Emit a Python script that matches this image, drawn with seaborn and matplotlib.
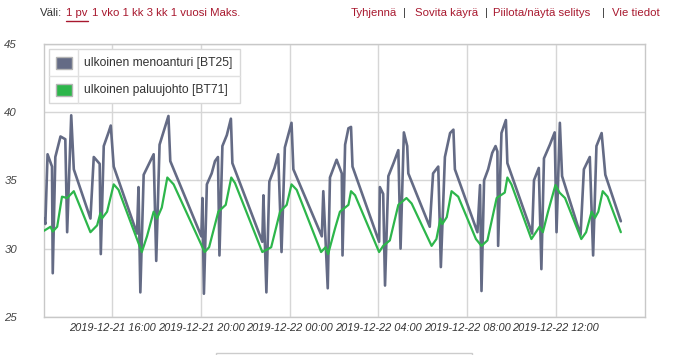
import matplotlib
matplotlib.use("Agg")
import matplotlib.pyplot as plt
import matplotlib.dates as mdates
from matplotlib.patches import Rectangle
from matplotlib.lines import Line2D
import seaborn as sns
import pandas as pd

# ---------------- data ----------------
bt25_times = [
    "2019-12-21 12:55", "2019-12-21 12:59", "2019-12-21 13:05", "2019-12-21 13:17", "2019-12-21 13:19",
    "2019-12-21 13:26", "2019-12-21 13:40", "2019-12-21 13:53", "2019-12-21 13:58", "2019-12-21 14:09",
    "2019-12-21 14:16", "2019-12-21 15:01", "2019-12-21 15:10", "2019-12-21 15:26", "2019-12-21 15:29",
    "2019-12-21 15:37", "2019-12-21 15:50", "2019-12-21 15:56", "2019-12-21 16:04", "2019-12-21 17:07",
    "2019-12-21 17:11", "2019-12-21 17:16", "2019-12-21 17:25", "2019-12-21 17:52", "2019-12-21 17:59",
    "2019-12-21 18:08", "2019-12-21 18:32", "2019-12-21 18:37", "2019-12-21 20:01", "2019-12-21 20:04",
    "2019-12-21 20:08", "2019-12-21 20:16", "2019-12-21 20:29", "2019-12-21 20:38", "2019-12-21 20:46",
    "2019-12-21 20:50", "2019-12-21 20:58", "2019-12-21 21:10", "2019-12-21 21:21", "2019-12-21 21:25",
    "2019-12-21 22:46", "2019-12-21 22:49", "2019-12-21 22:57", "2019-12-21 23:05", "2019-12-21 23:19",
    "2019-12-21 23:29", "2019-12-21 23:38", "2019-12-21 23:47", "2019-12-22 00:05", "2019-12-22 00:10",
    "2019-12-22 01:27", "2019-12-22 01:31", "2019-12-22 01:43", "2019-12-22 01:49", "2019-12-22 02:07",
    "2019-12-22 02:21", "2019-12-22 02:23", "2019-12-22 02:30", "2019-12-22 02:39", "2019-12-22 02:46",
    "2019-12-22 02:50", "2019-12-22 04:02", "2019-12-22 04:04", "2019-12-22 04:13", "2019-12-22 04:18",
    "2019-12-22 04:27", "2019-12-22 04:41", "2019-12-22 04:54", "2019-12-22 05:00", "2019-12-22 05:09",
    "2019-12-22 05:18", "2019-12-22 05:21", "2019-12-22 06:19", "2019-12-22 06:28", "2019-12-22 06:42",
    "2019-12-22 06:49", "2019-12-22 07:00", "2019-12-22 07:14", "2019-12-22 07:23", "2019-12-22 07:27",
    "2019-12-22 08:28", "2019-12-22 08:35", "2019-12-22 08:39", "2019-12-22 08:46", "2019-12-22 08:57",
    "2019-12-22 09:08", "2019-12-22 09:17", "2019-12-22 09:22", "2019-12-22 09:24", "2019-12-22 09:33",
    "2019-12-22 09:45", "2019-12-22 09:49", "2019-12-22 10:56", "2019-12-22 11:01", "2019-12-22 11:14",
    "2019-12-22 11:21", "2019-12-22 11:28", "2019-12-22 11:44", "2019-12-22 11:57", "2019-12-22 12:02",
    "2019-12-22 12:11", "2019-12-22 12:17", "2019-12-22 13:07", "2019-12-22 13:16", "2019-12-22 13:32",
    "2019-12-22 13:41", "2019-12-22 13:50", "2019-12-22 14:04", "2019-12-22 14:14", "2019-12-22 14:56",
]
bt25_values = [
    32.2, 31.8, 36.9, 36.0, 28.2,
    36.7, 38.2, 38.0, 31.2, 39.75,
    35.8, 32.2, 36.7, 36.2, 29.6,
    37.5, 38.5, 39.0, 36.0, 31.1,
    34.5, 26.8, 35.4, 36.9, 29.1,
    37.6, 39.7, 36.4, 30.9, 33.7,
    26.7, 34.7, 35.5, 36.4, 36.7,
    29.5, 37.5, 38.3, 39.5, 36.25,
    30.5, 33.9, 26.8, 34.9, 35.9,
    36.9, 29.75, 37.4, 39.2, 35.8,
    30.9, 34.2, 27.1, 35.2, 36.5,
    35.5, 29.5, 37.6, 38.8, 38.9,
    36.0, 30.5, 34.5, 34.0, 27.3,
    35.3, 36.25, 37.2, 30.0, 38.5,
    37.5, 35.5, 31.6, 35.5, 36.0,
    28.65, 36.7, 38.45, 38.7, 35.8,
    31.2, 34.65, 26.9, 35.0, 35.8,
    37.0, 37.5, 37.1, 30.2, 38.45,
    39.4, 36.25, 31.1, 35.0, 35.9,
    28.5, 36.6, 37.6, 38.5, 31.2,
    39.2, 35.3, 31.0, 35.8, 36.7,
    29.5, 37.5, 38.45, 35.4, 32.0,
]

bt71_times = [
    "2019-12-21 12:55", "2019-12-21 13:13", "2019-12-21 13:19", "2019-12-21 13:31", "2019-12-21 13:44",
    "2019-12-21 13:58", "2019-12-21 14:16", "2019-12-21 15:01", "2019-12-21 15:19", "2019-12-21 15:28",
    "2019-12-21 15:32", "2019-12-21 15:46", "2019-12-21 16:04", "2019-12-21 16:17", "2019-12-21 17:20",
    "2019-12-21 17:34", "2019-12-21 17:52", "2019-12-21 18:01", "2019-12-21 18:14", "2019-12-21 18:29",
    "2019-12-21 18:46", "2019-12-21 20:10", "2019-12-21 20:22", "2019-12-21 20:47", "2019-12-21 21:07",
    "2019-12-21 21:22", "2019-12-21 21:32", "2019-12-21 22:46", "2019-12-21 23:10", "2019-12-21 23:34",
    "2019-12-21 23:52", "2019-12-22 00:05", "2019-12-22 00:19", "2019-12-22 01:25", "2019-12-22 01:37",
    "2019-12-22 01:44", "2019-12-22 02:03", "2019-12-22 02:16", "2019-12-22 02:39", "2019-12-22 02:46",
    "2019-12-22 02:57", "2019-12-22 04:02", "2019-12-22 04:13", "2019-12-22 04:31", "2019-12-22 04:54",
    "2019-12-22 05:16", "2019-12-22 05:30", "2019-12-22 06:24", "2019-12-22 06:37", "2019-12-22 06:48",
    "2019-12-22 06:53", "2019-12-22 07:05", "2019-12-22 07:18", "2019-12-22 07:36", "2019-12-22 08:24",
    "2019-12-22 08:39", "2019-12-22 08:55", "2019-12-22 09:20", "2019-12-22 09:42", "2019-12-22 09:49",
    "2019-12-22 10:00", "2019-12-22 10:54", "2019-12-22 11:16", "2019-12-22 11:25", "2019-12-22 11:39",
    "2019-12-22 11:59", "2019-12-22 12:10", "2019-12-22 12:25", "2019-12-22 13:09", "2019-12-22 13:22",
    "2019-12-22 13:37", "2019-12-22 13:46", "2019-12-22 13:55", "2019-12-22 14:07", "2019-12-22 14:20",
    "2019-12-22 14:56",
]
bt71_values = [
    31.3, 31.6, 31.25, 31.6, 33.8,
    33.7, 34.2, 31.2, 31.7, 32.6,
    32.2, 32.7, 34.7, 34.3, 29.75,
    30.9, 32.7, 32.2, 33.0, 35.2,
    34.7, 29.75, 30.1, 32.7, 33.2,
    35.2, 34.8, 29.75, 30.1, 32.7,
    33.2, 34.7, 34.3, 29.75, 30.1,
    29.6, 31.5, 32.7, 33.2, 34.2,
    33.9, 29.75, 30.2, 30.6, 33.2,
    33.7, 33.3, 30.2, 30.7, 32.2,
    31.8, 32.3, 34.2, 33.8, 30.7,
    30.2, 30.6, 33.7, 34.1, 35.2,
    34.7, 30.7, 31.6, 31.2, 32.7,
    34.65, 34.1, 33.7, 30.7, 31.2,
    32.7, 32.25, 32.7, 34.2, 33.8,
    31.2,
]

series_labels = ["ulkoinen menoanturi [BT25]", "ulkoinen paluujohto [BT71]"]
series_colors = ["#646b85", "#2db64b"]
y_ticks = [25, 30, 35, 40, 45]
x_ticks = ["2019-12-21 16:00", "2019-12-21 20:00", "2019-12-22 00:00",
           "2019-12-22 04:00", "2019-12-22 08:00", "2019-12-22 12:00"]
x_range = ["2019-12-21 12:54", "2019-12-22 16:00"]
range_label = "Väli:"
range_active = "1 pv"
range_options = "1 vko 1 kk 3 kk 1 vuosi Maks."
actions = ["Tyhjennä", "Sovita käyrä", "Piilota/näytä selitys", "Vie tiedot"]

# ---------------- figure ----------------
sns.set_style("white")
plt.rcParams["font.family"] = ["Liberation Sans", "DejaVu Sans"]

W, H = 673, 355
fig = plt.figure(figsize=(W / 100, H / 100), dpi=100)
fig.patch.set_facecolor("white")

def fx(x):
    return x / W

def fy(y):
    return 1 - y / H

left, right, top, bottom = 43.5, 644.5, 43.5, 317.0
ax = fig.add_axes([fx(left), fy(bottom), (right - left) / W, (bottom - top) / H])

df25 = pd.DataFrame({"time": pd.to_datetime(bt25_times), "value": bt25_values})
df71 = pd.DataFrame({"time": pd.to_datetime(bt71_times), "value": bt71_values})

sns.lineplot(data=df25, x="time", y="value", ax=ax, color=series_colors[0],
             linewidth=1.9, estimator=None, sort=False, zorder=3)
sns.lineplot(data=df71, x="time", y="value", ax=ax, color=series_colors[1],
             linewidth=1.6, estimator=None, sort=False, zorder=4)
for ln in ax.get_lines():
    ln.set_solid_joinstyle("round")

ax.set_xlim(pd.to_datetime(x_range[0]), pd.to_datetime(x_range[1]))
ax.set_ylim(25, 45)
ax.set_yticks(y_ticks)
ax.set_xticks(pd.to_datetime(x_ticks))
ax.xaxis.set_major_formatter(mdates.DateFormatter("%Y-%m-%d %H:%M"))
ax.set_xlabel("")
ax.set_ylabel("")
ax.grid(True, color="#d6d6d6", linewidth=1.0)
ax.set_axisbelow(True)
for sp in ax.spines.values():
    sp.set_color("#c8c8c8")
    sp.set_linewidth(1.0)
ax.tick_params(axis="both", length=0)
ax.tick_params(axis="x", pad=4.5, labelsize=7.9, labelcolor="#333333")
ax.tick_params(axis="y", pad=19, labelsize=8.2, labelcolor="#444444")
for lab in ax.get_xticklabels() + ax.get_yticklabels():
    lab.set_fontstyle("italic")

# ---------------- legend (table style) ----------------
lx0, lx1, ly0, ly1 = 49.3, 239.7, 49.3, 102.7
ldiv_y, ldiv_x = 76.0, 78.3
fig.patches.append(Rectangle((fx(lx0), fy(ly1)), (lx1 - lx0) / W, (ly1 - ly0) / H,
                             transform=fig.transFigure, facecolor="white",
                             edgecolor="#d8d8d8", linewidth=1.0, zorder=5))
fig.lines.append(Line2D([fx(lx0), fx(lx1)], [fy(ldiv_y), fy(ldiv_y)],
                        transform=fig.transFigure, color="#e0e0e0", linewidth=1.0, zorder=6))
fig.lines.append(Line2D([fx(ldiv_x), fx(ldiv_x)], [fy(ly0), fy(ly1)],
                        transform=fig.transFigure, color="#e0e0e0", linewidth=1.0, zorder=6))
row_centers = [63.0, 90.0]
for yc, lab, col in zip(row_centers, series_labels, series_colors):
    fig.patches.append(Rectangle((fx(56), fy(yc + 6)), 15.5 / W, 12 / H,
                                 transform=fig.transFigure, facecolor=col,
                                 edgecolor="#b5b5b5", linewidth=1.0, zorder=7))
    fig.text(fx(84), fy(yc), lab, ha="left", va="center", fontsize=8.7,
             color="#333333", zorder=8)

# ---------------- top links ----------------
red = "#a8182e"
dark = "#333333"
ty = fy(13)
fig.text(fx(40), ty, range_label, ha="left", va="center", fontsize=8.2, color=dark)
t_active = fig.text(fx(66), ty, range_active, ha="left", va="center", fontsize=8.2, color=red)
fig.text(fx(92), ty, range_options, ha="left", va="center", fontsize=8.2, color=red)

action_x = [351, 415, 493.5, 612]
sep_x = [403, 485, 602]
for xa, txt in zip(action_x, actions):
    fig.text(fx(xa), ty, txt, ha="left", va="center", fontsize=8.2, color=red)
for xs in sep_x:
    fig.text(fx(xs), ty, "|", ha="left", va="center", fontsize=8.2, color=dark)

fig.canvas.draw()
bb = t_active.get_window_extent()
fig.lines.append(Line2D([bb.x0 / W, bb.x1 / W], [fy(20.5), fy(20.5)],
                        transform=fig.transFigure, color=red, linewidth=1.0))

# ---------------- navigator stub at bottom ----------------
fig.patches.append(Rectangle((fx(216), fy(365)), (472 - 216) / W, 12.5 / H,
                             transform=fig.transFigure, facecolor="white",
                             edgecolor="#cccccc", linewidth=1.0))

fig.savefig("out.png", dpi=100)
